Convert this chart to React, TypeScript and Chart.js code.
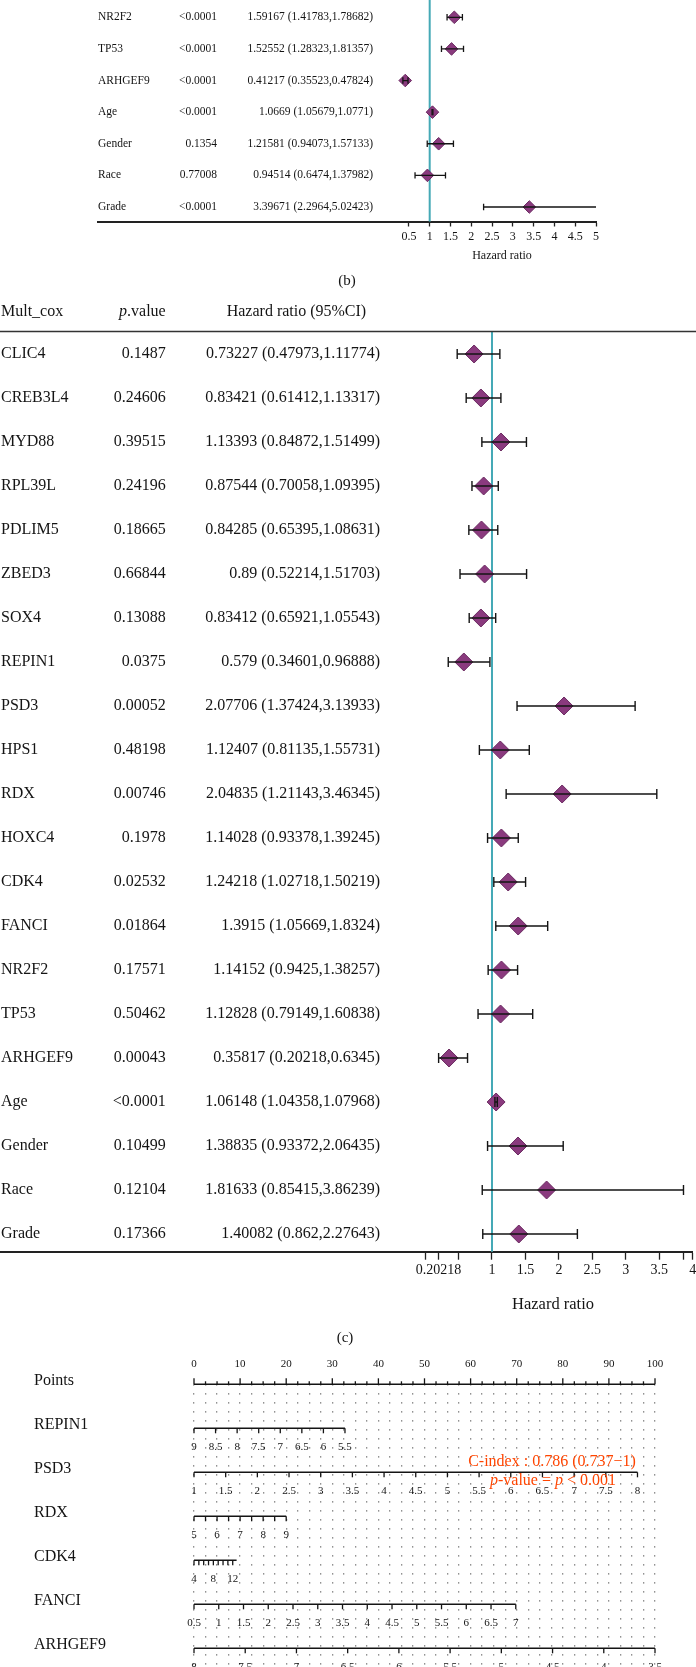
import React, { useEffect, useRef } from 'react';
import { Chart, registerables } from 'chart.js';

Chart.register(...registerables);

const SERIF = '"Liberation Serif", "Times New Roman", Times, serif';
const TEAL = '#45a9b6';
const DIAMOND_FILL = '#8a3a7e';
const DIAMOND_EDGE = '#6b2a61';
const INK = '#141414';
const ORANGE = '#ff4500';
const REFERENCE_HR = 1;

// ---------- Panel (b): univariate Cox (lower part visible) ----------
const B_NAMES = ['NR2F2', 'TP53', 'ARHGEF9', 'Age', 'Gender', 'Race', 'Grade'];
const B_PVALUES = ['<0.0001', '<0.0001', '<0.0001', '<0.0001', '0.1354', '0.77008', '<0.0001'];
const B_HR = [1.59167, 1.52552, 0.41217, 1.0669, 1.21581, 0.94514, 3.39671];
const B_LOW = [1.41783, 1.28323, 0.35523, 1.05679, 0.94073, 0.6474, 2.2964];
const B_HIGH = [1.78682, 1.81357, 0.47824, 1.0771, 1.57133, 1.37982, 5.02423];
const B_TICKS = [0.5, 1, 1.5, 2, 2.5, 3, 3.5, 4, 4.5, 5];
const B_TICK_LABELS = ['0.5', '1', '1.5', '2', '2.5', '3', '3.5', '4', '4.5', '5'];

// ---------- Panel (c): multivariate Cox ----------
const C_NAMES = ['CLIC4', 'CREB3L4', 'MYD88', 'RPL39L', 'PDLIM5', 'ZBED3', 'SOX4', 'REPIN1', 'PSD3', 'HPS1', 'RDX',
  'HOXC4', 'CDK4', 'FANCI', 'NR2F2', 'TP53', 'ARHGEF9', 'Age', 'Gender', 'Race', 'Grade'];
const C_PVALUES = ['0.1487', '0.24606', '0.39515', '0.24196', '0.18665', '0.66844', '0.13088', '0.0375', '0.00052',
  '0.48198', '0.00746', '0.1978', '0.02532', '0.01864', '0.17571', '0.50462', '0.00043', '<0.0001', '0.10499',
  '0.12104', '0.17366'];
const C_HR = [0.73227, 0.83421, 1.13393, 0.87544, 0.84285, 0.89, 0.83412, 0.579, 2.07706, 1.12407, 2.04835,
  1.14028, 1.24218, 1.3915, 1.14152, 1.12828, 0.35817, 1.06148, 1.38835, 1.81633, 1.40082];
const C_LOW = [0.47973, 0.61412, 0.84872, 0.70058, 0.65395, 0.52214, 0.65921, 0.34601, 1.37424, 0.81135, 1.21143,
  0.93378, 1.02718, 1.05669, 0.9425, 0.79149, 0.20218, 1.04358, 0.93372, 0.85415, 0.862];
const C_HIGH = [1.11774, 1.13317, 1.51499, 1.09395, 1.08631, 1.51703, 1.05543, 0.96888, 3.13933, 1.55731, 3.46345,
  1.39245, 1.50219, 1.8324, 1.38257, 1.60838, 0.6345, 1.07968, 2.06435, 3.86239, 2.27643];
const C_TICKS = [0, 0.20218, 0.5, 1, 1.5, 2, 2.5, 3, 3.5, 3.86239, 4];
const C_TICK_LABELS = ['', '0.20218', '', '1', '1.5', '2', '2.5', '3', '3.5', '', '4'];

// ---------- Nomogram ----------
const POINTS_LABELS = [0, 10, 20, 30, 40, 50, 60, 70, 80, 90, 100];
const POINTS_MINOR_STEP = 2.5;
const REPIN1_TICKS = [9, 8.5, 8, 7.5, 7, 6.5, 6, 5.5];
const REPIN1_LABELS = ['9', '8.5', '8', '7.5', '7', '6.5', '6', '5.5'];
const REPIN1_POINTS = [0, 32.75];
const PSD3_TICKS = [1, 1.5, 2, 2.5, 3, 3.5, 4, 4.5, 5, 5.5, 6, 6.5, 7, 7.5, 8];
const PSD3_LABELS = ['1', '1.5', '2', '2.5', '3', '3.5', '4', '4.5', '5', '5.5', '6', '6.5', '7', '7.5', '8'];
const PSD3_POINTS = [0, 96.2];
const RDX_TICKS = [5, 5.5, 6, 6.5, 7, 7.5, 8, 8.5, 9];
const RDX_LABELS = ['5', '', '6', '', '7', '', '8', '', '9'];
const RDX_POINTS = [0, 20];
const CDK4_TICKS = [4, 5, 6, 7, 8, 9, 10, 11, 12];
const CDK4_LABELS = ['4', '', '', '', '8', '', '', '', '12'];
const CDK4_POINTS = [0, 8.4];
const CDK4_END = 12.8;
const FANCI_TICKS = [0.5, 1, 1.5, 2, 2.5, 3, 3.5, 4, 4.5, 5, 5.5, 6, 6.5, 7];
const FANCI_LABELS = ['0.5', '1', '1.5', '2', '2.5', '3', '3.5', '4', '4.5', '5', '5.5', '6', '6.5', '7'];
const FANCI_POINTS = [0, 69.8];
const ARHGEF9_TICKS = [8, 7.5, 7, 6.5, 6, 5.5, 5, 4.5, 4, 3.5];
const ARHGEF9_LABELS = ['8', '7.5', '7', '6.5', '6', '5.5', '5', '4.5', '4', '3.5'];
const ARHGEF9_POINTS = [0, 100];
const C_INDEX_TEXT = 'C-index : 0.786 (0.737\u22121)';

type NomoRow = { name: string; ticks: number[]; labels: string[]; points: number[]; end?: number };
const NOMO_ROWS: NomoRow[] = [
  { name: 'REPIN1', ticks: REPIN1_TICKS, labels: REPIN1_LABELS, points: REPIN1_POINTS },
  { name: 'PSD3', ticks: PSD3_TICKS, labels: PSD3_LABELS, points: PSD3_POINTS },
  { name: 'RDX', ticks: RDX_TICKS, labels: RDX_LABELS, points: RDX_POINTS },
  { name: 'CDK4', ticks: CDK4_TICKS, labels: CDK4_LABELS, points: CDK4_POINTS, end: CDK4_END },
  { name: 'FANCI', ticks: FANCI_TICKS, labels: FANCI_LABELS, points: FANCI_POINTS },
  { name: 'ARHGEF9', ticks: ARHGEF9_TICKS, labels: ARHGEF9_LABELS, points: ARHGEF9_POINTS },
];

function toPoints(row: NomoRow, v: number) {
  const t0 = row.ticks[0];
  const t1 = row.ticks[row.ticks.length - 1];
  return row.points[0] + ((v - t0) / (t1 - t0)) * (row.points[1] - row.points[0]);
}

type ForestSpec = {
  names: string[]; pvals: string[]; hr: number[]; lo: number[]; hi: number[];
  ticks: number[]; tickLabels: string[];
  xMin: number; xMax: number; yMin: number; yMax: number;
  padding: { left: number; right: number; top: number; bottom: number };
  tickLength: number; tickPadding: number; tickSize: number; textSize: number;
  diamondR: number; capR: number; lineW: number; refW: number; axisW: number;
  nameX: number; pRight: number; hrRight: number;
  decorate: (chart: any, ctx: CanvasRenderingContext2D) => void;
};

function buildForest(canvas: HTMLCanvasElement, s: ForestSpec) {
  const diamonds = s.hr.map((v, i) => ({ x: v, y: i }));
  const ci: any[] = [];
  const caps: any[] = [];
  s.hr.forEach((_, i) => {
    ci.push({ x: s.lo[i], y: i }, { x: s.hi[i], y: i }, { x: s.hi[i], y: null });
    caps.push({ x: s.lo[i], y: i }, { x: s.hi[i], y: i });
  });
  const ref = [{ x: REFERENCE_HR, y: s.yMin }, { x: REFERENCE_HR, y: s.yMax }];
  const textPlugin = {
    id: 'forestText',
    afterDraw(chart: any) {
      const ctx: CanvasRenderingContext2D = chart.ctx;
      const ys = chart.scales.y;
      ctx.save();
      ctx.fillStyle = INK;
      ctx.textBaseline = 'middle';
      ctx.font = `${s.textSize}px ${SERIF}`;
      s.names.forEach((name, i) => {
        const y = ys.getPixelForValue(i);
        ctx.textAlign = 'left';
        ctx.fillText(name, s.nameX, y);
        ctx.textAlign = 'right';
        ctx.fillText(s.pvals[i], s.pRight, y);
        ctx.fillText(`${s.hr[i]} (${s.lo[i]},${s.hi[i]})`, s.hrRight, y);
      });
      s.decorate(chart, ctx);
      ctx.restore();
    },
  };
  return new Chart(canvas, {
    type: 'scatter',
    data: {
      datasets: [
        { data: ref, showLine: true, borderColor: TEAL, borderWidth: s.refW, pointRadius: 0, order: 4, clip: false },
        {
          data: diamonds, pointStyle: 'rectRot', pointRadius: s.diamondR, pointBackgroundColor: DIAMOND_FILL,
          pointBorderColor: DIAMOND_EDGE, pointBorderWidth: 1, order: 3,
        },
        { data: ci, showLine: true, spanGaps: false, borderColor: INK, borderWidth: s.lineW, pointRadius: 0, order: 2 },
        {
          data: caps, pointStyle: 'line', pointRotation: 90, pointRadius: s.capR, pointBorderColor: INK,
          pointBorderWidth: s.lineW, order: 1,
        },
      ],
    } as any,
    options: {
      responsive: false,
      animation: false,
      events: [],
      layout: { padding: s.padding, autoPadding: false },
      plugins: { legend: { display: false }, tooltip: { enabled: false } },
      scales: {
        x: {
          type: 'linear',
          position: 'bottom',
          min: s.xMin,
          max: s.xMax,
          afterBuildTicks: (scale: any) => { scale.ticks = s.ticks.map((v) => ({ value: v })); },
          afterFit: (scale: any) => { scale.paddingLeft = 0; scale.paddingRight = 0; },
          ticks: {
            autoSkip: false, maxRotation: 0, minRotation: 0, padding: s.tickPadding, color: INK,
            font: { family: SERIF, size: s.tickSize },
            callback: (_v: any, i: number) => s.tickLabels[i],
          },
          grid: { drawOnChartArea: false, drawTicks: true, tickLength: s.tickLength, tickWidth: 1.3, tickColor: '#222' },
          border: { display: true, color: '#222', width: s.axisW },
        },
        y: { type: 'linear', display: false, min: s.yMin, max: s.yMax, reverse: true },
      },
    } as any,
    plugins: [textPlugin],
  });
}

function buildNomogram(canvas: HTMLCanvasElement) {
  const axisLines: any[] = [
    { x: POINTS_LABELS[0], y: 0 },
    { x: POINTS_LABELS[POINTS_LABELS.length - 1], y: 0 },
    { x: POINTS_LABELS[POINTS_LABELS.length - 1], y: null },
  ];
  NOMO_ROWS.forEach((r, k) => {
    const a = toPoints(r, r.ticks[0]);
    const b = toPoints(r, r.end !== undefined ? r.end : r.ticks[r.ticks.length - 1]);
    axisLines.push({ x: a, y: k + 1 }, { x: b, y: k + 1 }, { x: b, y: null });
  });
  const gridTicks: number[] = [];
  for (let p = POINTS_LABELS[0]; p <= POINTS_LABELS[POINTS_LABELS.length - 1] + 1e-9; p += POINTS_MINOR_STEP) gridTicks.push(p);

  const nomoPlugin = {
    id: 'nomoText',
    afterDraw(chart: any) {
      const ctx: CanvasRenderingContext2D = chart.ctx;
      const xs = chart.scales.x;
      const ys = chart.scales.y;
      ctx.save();
      ctx.fillStyle = INK;
      ctx.strokeStyle = INK;
      ctx.lineWidth = 1.3;
      ctx.textBaseline = 'middle';
      // Points axis
      const y0 = ys.getPixelForValue(0);
      ctx.font = `16px ${SERIF}`;
      ctx.textAlign = 'left';
      ctx.fillText('Points', 34, y0 - 4);
      gridTicks.forEach((p) => {
        const x = xs.getPixelForValue(p);
        const major = POINTS_LABELS.includes(p);
        ctx.beginPath();
        ctx.moveTo(x, y0);
        ctx.lineTo(x, y0 - (major ? 6 : 3));
        ctx.stroke();
      });
      ctx.font = `11px ${SERIF}`;
      ctx.textAlign = 'center';
      POINTS_LABELS.forEach((p) => ctx.fillText(String(p), xs.getPixelForValue(p), y0 - 20));
      // Variable axes
      NOMO_ROWS.forEach((r, k) => {
        const y = ys.getPixelForValue(k + 1);
        ctx.font = `16px ${SERIF}`;
        ctx.textAlign = 'left';
        ctx.fillText(r.name, 34, y - 4);
        ctx.font = `11px ${SERIF}`;
        ctx.textAlign = 'center';
        r.ticks.forEach((t, j) => {
          const x = xs.getPixelForValue(toPoints(r, t));
          ctx.beginPath();
          ctx.moveTo(x, y);
          ctx.lineTo(x, y + 5);
          ctx.stroke();
          if (r.labels[j]) ctx.fillText(r.labels[j], x, y + 18.4);
        });
      });
      // C-index annotation
      ctx.fillStyle = ORANGE;
      ctx.font = `16px ${SERIF}`;
      ctx.textAlign = 'center';
      ctx.fillText(C_INDEX_TEXT, 552, 111.7);
      const parts: [string, boolean][] = [['p', true], ['-value = ', false], ['p', true], [' < 0.001', false]];
      let total = 0;
      const widths = parts.map(([t, it]) => {
        ctx.font = `${it ? 'italic ' : ''}16px ${SERIF}`;
        const w = ctx.measureText(t).width;
        total += w;
        return w;
      });
      let cx = 553 - total / 2;
      ctx.textAlign = 'left';
      parts.forEach(([t, it], i) => {
        ctx.font = `${it ? 'italic ' : ''}16px ${SERIF}`;
        ctx.fillText(t, cx, 131);
        cx += widths[i];
      });
      ctx.restore();
    },
  };

  return new Chart(canvas, {
    type: 'scatter',
    data: {
      datasets: [
        { data: axisLines, showLine: true, spanGaps: false, borderColor: INK, borderWidth: 1.5, pointRadius: 0, clip: false },
      ],
    } as any,
    options: {
      responsive: false,
      animation: false,
      events: [],
      layout: { padding: { left: 194, right: 41, top: 34.3, bottom: 0 }, autoPadding: false },
      plugins: { legend: { display: false }, tooltip: { enabled: false } },
      scales: {
        x: {
          type: 'linear',
          min: POINTS_LABELS[0],
          max: POINTS_LABELS[POINTS_LABELS.length - 1],
          afterBuildTicks: (scale: any) => { scale.ticks = gridTicks.map((v) => ({ value: v })); },
          afterFit: (scale: any) => { scale.paddingLeft = 0; scale.paddingRight = 0; },
          ticks: { display: false },
          grid: { drawTicks: false, drawOnChartArea: true, color: '#6f6f6f', lineWidth: 1.3 },
          border: { display: false, dash: [1.3, 7.7] },
        },
        y: { type: 'linear', display: false, min: 0, max: 6.425, reverse: true },
      },
    } as any,
    plugins: [nomoPlugin],
  });
}

export default function App() {
  const bRef = useRef<HTMLCanvasElement>(null);
  const cRef = useRef<HTMLCanvasElement>(null);
  const nRef = useRef<HTMLCanvasElement>(null);

  useEffect(() => {
    document.body.style.margin = '0';
    document.body.style.background = '#fff';
    const charts: Chart[] = [];
    if (bRef.current) {
      charts.push(buildForest(bRef.current, {
        names: B_NAMES, pvals: B_PVALUES, hr: B_HR, lo: B_LOW, hi: B_HIGH,
        ticks: B_TICKS, tickLabels: B_TICK_LABELS,
        xMin: -6.978, xMax: 5, yMin: -0.547, yMax: 6.459,
        padding: { left: 98, right: 100, top: 0, bottom: 42.5 },
        tickLength: 5, tickPadding: 3.3, tickSize: 12, textSize: 11.5,
        diamondR: 6.3, capR: 3.2, lineW: 1.3, refW: 2, axisW: 2,
        nameX: 98, pRight: 217, hrRight: 373,
        decorate: (_chart, ctx) => {
          ctx.textAlign = 'center';
          ctx.font = `12px ${SERIF}`;
          ctx.fillText('Hazard ratio', 502, 256);
          ctx.font = `15px ${SERIF}`;
          ctx.fillText('(b)', 347, 281);
        },
      }));
    }
    if (cRef.current) {
      charts.push(buildForest(cRef.current, {
        names: C_NAMES, pvals: C_PVALUES, hr: C_HR, lo: C_LOW, hi: C_HIGH,
        ticks: C_TICKS, tickLabels: C_TICK_LABELS,
        xMin: -6.354, xMax: 4, yMin: -0.511, yMax: 20.402,
        padding: { left: 0, right: 3.3, top: 41.5, bottom: 69.5 },
        tickLength: 8, tickPadding: 2, tickSize: 14, textSize: 16,
        diamondR: 9, capR: 5, lineW: 1.4, refW: 2, axisW: 2,
        nameX: 1, pRight: 165.7, hrRight: 380,
        decorate: (chart, ctx) => {
          const area = chart.chartArea;
          const hy = 21.7;
          ctx.font = `16px ${SERIF}`;
          ctx.textAlign = 'left';
          ctx.fillText('Mult_cox', 1, hy);
          ctx.textAlign = 'right';
          ctx.fillText('.value', 165.7, hy);
          const w = ctx.measureText('.value').width;
          ctx.font = `italic 16px ${SERIF}`;
          ctx.fillText('p', 165.7 - w, hy);
          ctx.font = `16px ${SERIF}`;
          ctx.textAlign = 'left';
          ctx.fillText('Hazard ratio (95%CI)', 226.7, hy);
          ctx.strokeStyle = '#333';
          ctx.lineWidth = 1.7;
          ctx.beginPath();
          ctx.moveTo(0, area.top);
          ctx.lineTo(chart.width, area.top);
          ctx.stroke();
          ctx.textAlign = 'center';
          ctx.font = `16.5px ${SERIF}`;
          ctx.fillText('Hazard ratio', 553, 1015);
          ctx.font = `15px ${SERIF}`;
          ctx.fillText('(c)', 345, 1048);
        },
      }));
    }
    if (nRef.current) charts.push(buildNomogram(nRef.current));
    return () => charts.forEach((c) => c.destroy());
  }, []);

  return (
    <div style={{ position: 'relative', width: 696, height: 1667, background: '#fff', overflow: 'hidden' }}>
      <canvas ref={bRef} width={696} height={290} style={{ position: 'absolute', left: 0, top: 0 }} />
      <canvas ref={cRef} width={696} height={1060} style={{ position: 'absolute', left: 0, top: 290 }} />
      <canvas ref={nRef} width={696} height={317} style={{ position: 'absolute', left: 0, top: 1350 }} />
    </div>
  );
}
